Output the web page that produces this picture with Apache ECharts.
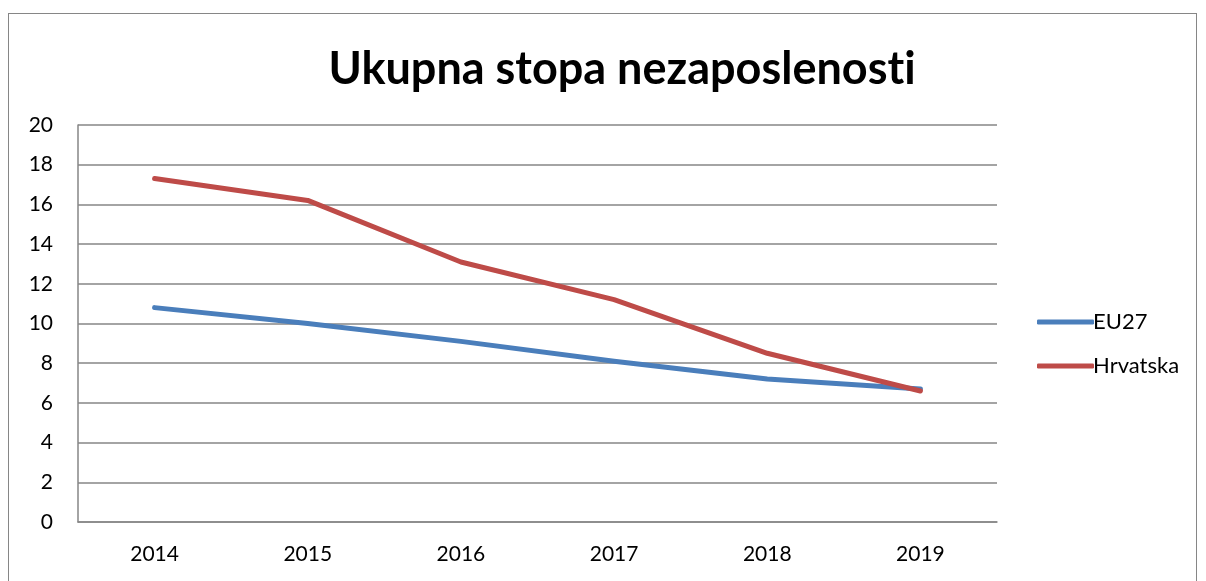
<!DOCTYPE html>
<html>
<head>
<meta charset="utf-8">
<script src="https://cdn.jsdelivr.net/npm/echarts@6/dist/echarts.min.js"></script>
<style>
    html, body { margin: 0; padding: 0; background: #fff; }
    #frame {
        position: absolute; left: 8px; top: 13px; width: 1189px; height: 600px;
        border: 1.5px solid #868686; box-sizing: border-box;
    }
    #chart { position: absolute; left: 0; top: 0; width: 1206px; height: 581px; }
</style>
</head>
<body>
<div id="frame"></div>
<div id="chart"></div>
<script>
const years = ['2014', '2015', '2016', '2017', '2018', '2019']
const eu27 = [10.8, 10.0, 9.1, 8.1, 7.2, 6.7]
const hrvatska = [17.3, 16.2, 13.1, 11.2, 8.5, 6.6]

const font = 'Lato, "Open Sans", sans-serif'
let myChart = echarts.init(document.getElementById('chart'))
myChart.setOption({
    animation: false,
    title: {
        // ZWNJ keeps Lato from joining "ti" into a ligature
        text: 'Ukupna stopa nezaposlenost\u200Ci',
        left: 617,
        top: 42,
        textAlign: 'center',
        textStyle: { fontFamily: font, fontSize: 45, fontWeight: 'bold', color: '#000' }
    },
    legend: {
        orient: 'vertical',
        left: 1032,
        top: 306,
        itemGap: 22,
        itemWidth: 57,
        itemHeight: 5,
        icon: 'roundRect',
        textStyle: { fontFamily: font, fontSize: 22, color: '#000', padding: [0, 0, 0, -6] },
        data: ['EU27', 'Hrvatska']
    },
    grid: { left: 78, right: 209, top: 125, bottom: 59, containLabel: false },
    xAxis: {
        type: 'category',
        data: years,
        boundaryGap: true,
        axisLine: { lineStyle: { color: '#868686', width: 1.5 } },
        axisTick: { show: false },
        axisLabel: { fontFamily: font, fontSize: 21, color: '#000', margin: 22 }
    },
    yAxis: {
        type: 'value',
        min: 0,
        max: 20,
        interval: 2,
        axisLine: { show: true, lineStyle: { color: '#868686', width: 1.5 } },
        axisTick: { show: false },
        splitLine: { lineStyle: { color: '#868686', width: 1.5 } },
        axisLabel: { fontFamily: font, fontSize: 21, color: '#000', margin: 25 }
    },
    series: [
        {
            name: 'EU27',
            type: 'line',
            data: eu27,
            symbol: 'none',
            lineStyle: { width: 5, cap: 'round', join: 'round' },
            itemStyle: { color: '#4a7ebb' }
        },
        {
            name: 'Hrvatska',
            type: 'line',
            data: hrvatska,
            symbol: 'none',
            lineStyle: { width: 5, cap: 'round', join: 'round' },
            itemStyle: { color: '#be4b48' }
        }
    ]
})
</script>
</body>
</html>
